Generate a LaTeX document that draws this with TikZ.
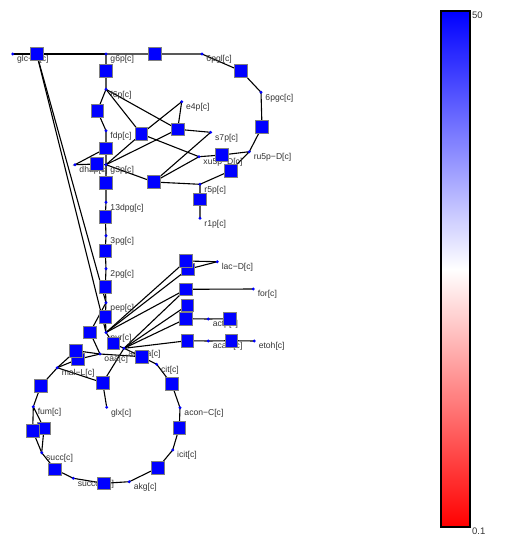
\documentclass[tikz,border=0pt]{standalone}
\usepackage{fontspec}
\setmainfont{Liberation Sans}
\usetikzlibrary{positioning}
\pgfdeclarelayer{edges}
\pgfdeclarelayer{labels}
\pgfsetlayers{edges,labels,main}

\begin{document}
\begin{tikzpicture}[x=1pt, y=-1pt,
	met/.style={circle, fill=blue, inner sep=0pt, minimum size=3.2pt},
	rxn/.style={draw=gray, fill=blue, line width=0.8pt, inner sep=0pt, minimum size=12.5pt},
	lbl/.style={font=\fontsize{8.6}{9}\selectfont, text=black!80, inner sep=0pt},
	link/.style={line width=1.1pt}]
	\useasboundingbox (0,0) rectangle (504,536);
	
	% metabolites
	\node[met] (glc) at (12.7,54) {};
	\node[met] (g6p) at (106,54) {};
	\node[met] (pgl6) at (202,54) {};
	\node[met] (pgc6) at (261,92.3) {};
	\node[met] (f6p) at (106,89.3) {};
	\node[met] (e4p) at (181.7,101.7) {};
	\node[met] (fdp) at (106,130.7) {};
	\node[met] (s7p) at (210.7,132.3) {};
	\node[met] (xu5p) at (199,156.7) {};
	\node[met] (ru5p) at (249.3,151.7) {};
	\node[met] (dhap) at (75,164.7) {};
	\node[met] (g3p) at (106,164.7) {};
	\node[met] (r5p) at (200,184.3) {};
	\node[met] (dpg13) at (106,202.3) {};
	\node[met] (r1p) at (200,218.3) {};
	\node[met] (pg3) at (106,235.7) {};
	\node[met] (pg2) at (106,268.7) {};
	\node[met] (pep) at (106,302.7) {};
	\node[met] (pyr) at (106,332.5) {};
	\node[met] (lacD) at (217.3,261.7) {};
	\node[met] (form) at (253.3,289) {};
	\node[met] (actp) at (208.3,319) {};
	\node[met] (accoa) at (124,348.3) {};
	\node[met] (oaa) at (100,354) {};
	\node[met] (acald) at (208.3,341) {};
	\node[met] (etoh) at (254.3,341) {};
	\node[met] (cit) at (156.7,364.3) {};
	\node[met] (malL) at (57.3,367.7) {};
	\node[met] (fum) at (33.3,406.7) {};
	\node[met] (glx) at (106.7,407.3) {};
	\node[met] (aconC) at (180,407.7) {};
	\node[met] (succ) at (41.7,452.7) {};
	\node[met] (icit) at (172.7,450) {};
	\node[met] (succoa) at (73.3,478.3) {};
	\node[met] (akg) at (129.3,481.7) {};
	
	% labels
	\begin{pgfonlayer}{labels}
	\node[lbl, below right=0pt and 3pt of glc] (glc-l) {glc−D[c]};
	\node[lbl, below right=0pt and 3pt of g6p] (g6p-l) {g6p[c]};
	\node[lbl, below right=0pt and 3pt of pgl6] (pgl6-l) {6pgl[c]};
	\node[lbl, below right=0pt and 3pt of pgc6] (pgc6-l) {6pgc[c]};
	\node[lbl, below right=0pt and 3pt of f6p] (f6p-l) {f6p[c]};
	\node[lbl, below right=0pt and 3pt of e4p] (e4p-l) {e4p[c]};
	\node[lbl, below right=0pt and 3pt of fdp] (fdp-l) {fdp[c]};
	\node[lbl, below right=0pt and 3pt of s7p] (s7p-l) {s7p[c]};
	\node[lbl, below right=0pt and 3pt of xu5p] (xu5p-l) {xu5p−D[c]};
	\node[lbl, below right=0pt and 3pt of ru5p] (ru5p-l) {ru5p−D[c]};
	\node[lbl, below right=0pt and 3pt of dhap] (dhap-l) {dhap[c]};
	\node[lbl, below right=0pt and 3pt of g3p] (g3p-l) {g3p[c]};
	\node[lbl, below right=0pt and 3pt of r5p] (r5p-l) {r5p[c]};
	\node[lbl, below right=0pt and 3pt of dpg13] (dpg13-l) {13dpg[c]};
	\node[lbl, below right=0pt and 3pt of r1p] (r1p-l) {r1p[c]};
	\node[lbl, below right=0pt and 3pt of pg3] (pg3-l) {3pg[c]};
	\node[lbl, below right=0pt and 3pt of pg2] (pg2-l) {2pg[c]};
	\node[lbl, below right=0pt and 3pt of pep] (pep-l) {pep[c]};
	\node[lbl, below right=0pt and 3pt of pyr] (pyr-l) {pyr[c]};
	\node[lbl, below right=0pt and 3pt of lacD] (lacD-l) {lac−D[c]};
	\node[lbl, below right=0pt and 3pt of form] (form-l) {for[c]};
	\node[lbl, below right=0pt and 3pt of actp] (actp-l) {actp[c]};
	\node[lbl, below right=0pt and 3pt of accoa] (accoa-l) {accoa[c]};
	\node[lbl, below right=0pt and 3pt of oaa] (oaa-l) {oaa[c]};
	\node[lbl, below right=0pt and 3pt of acald] (acald-l) {acald[c]};
	\node[lbl, below right=0pt and 3pt of etoh] (etoh-l) {etoh[c]};
	\node[lbl, below right=0pt and 3pt of cit] (cit-l) {cit[c]};
	\node[lbl, below right=0pt and 3pt of malL] (malL-l) {mal−L[c]};
	\node[lbl, below right=0pt and 3pt of fum] (fum-l) {fum[c]};
	\node[lbl, below right=0pt and 3pt of glx] (glx-l) {glx[c]};
	\node[lbl, below right=0pt and 3pt of aconC] (aconC-l) {acon−C[c]};
	\node[lbl, below right=0pt and 3pt of succ] (succ-l) {succ[c]};
	\node[lbl, below right=0pt and 3pt of icit] (icit-l) {icit[c]};
	\node[lbl, below right=0pt and 3pt of succoa] (succoa-l) {succoa[c]};
	\node[lbl, below right=0pt and 3pt of akg] (akg-l) {akg[c]};
	\end{pgfonlayer}
	
	% reactions
	\node[rxn] (GLCpts) at (36.7,54) {};
	\node[rxn] (G6PDH) at (154.7,54) {};
	\node[rxn] (PGI) at (106,71) {};
	\node[rxn] (PGL) at (241,71) {};
	\node[rxn] (GND) at (262,127) {};
	\node[rxn] (PFK) at (97.3,111) {};
	\node[rxn] (TKT2) at (141.3,134) {};
	\node[rxn] (TALA) at (177.7,129.3) {};
	\node[rxn] (TKT1) at (153.7,182) {};
	\node[rxn] (RPE) at (221.7,155) {};
	\node[rxn] (RPI) at (230.7,170.7) {};
	\node[rxn] (PPM) at (200,199.3) {};
	\node[rxn] (FBA) at (106,148.3) {};
	\node[rxn] (TPI) at (96.7,164) {};
	\node[rxn] (GAPD) at (106,182.7) {};
	\node[rxn] (PGK) at (105.3,216.7) {};
	\node[rxn] (PGM) at (105.3,250.7) {};
	\node[rxn] (ENO) at (105.3,286.7) {};
	\node[rxn] (PYK) at (105.3,316.7) {};
	\node[rxn] (PPC) at (90,332.3) {};
	\node[rxn] (PDH) at (113.3,343.3) {};
	\node[rxn] (DLACt) at (187.7,269.3) {};
	\node[rxn] (LDH) at (186,261) {};
	\node[rxn] (PFL) at (186,289.3) {};
	\node[rxn] (ACt) at (187.3,305.3) {};
	\node[rxn] (PTAr) at (186,318.7) {};
	\node[rxn] (ACKr) at (230,318.7) {};
	\node[rxn] (ACALD) at (187.3,340.7) {};
	\node[rxn] (ALCD) at (231.3,340.7) {};
	\node[rxn] (CS) at (141.7,356.7) {};
	\node[rxn] (MDH2) at (77.7,359.3) {};
	\node[rxn] (MDH) at (76,350.7) {};
	\node[rxn] (MALS) at (102.7,382.7) {};
	\node[rxn] (ACONTa) at (171.7,384) {};
	\node[rxn] (ACONTb) at (179.3,427.7) {};
	\node[rxn] (ICDH) at (158,467.7) {};
	\node[rxn] (AKGDH) at (104,483.3) {};
	\node[rxn] (SUCOAS) at (55,469.3) {};
	\node[rxn] (FRD) at (44,428.3) {};
	\node[rxn] (SUCDi) at (32.7,430.7) {};
	\node[rxn] (FUM) at (40.7,386) {};
	
	% connectors
	\begin{pgfonlayer}{edges}
	\draw[link] (glc.center) -- (GLCpts.center) -- (g6p.center);
	\draw[link] (GLCpts.center) -- (pep.center);
	\draw[link] (GLCpts.center) -- (pyr.center);
	\draw[link] (g6p.center) -- (G6PDH.center) -- (pgl6.center) -- (PGL.center) -- (pgc6.center) -- (GND.center) -- (ru5p.center);
	\draw[link] (g6p.center) -- (PGI.center) -- (f6p.center) -- (PFK.center) -- (fdp.center) -- (FBA.center) -- (g3p.center);
	\draw[link] (FBA.center) -- (dhap.center) -- (TPI.center) -- (g3p.center);
	\draw[link] (f6p.center) -- (TKT2.center) -- (e4p.center);
	\draw[link] (g3p.center) -- (TKT2.center) -- (xu5p.center);
	\draw[link] (f6p.center) -- (TALA.center) -- (e4p.center);
	\draw[link] (g3p.center) -- (TALA.center) -- (s7p.center);
	\draw[link] (g3p.center) -- (TKT1.center) -- (s7p.center);
	\draw[link] (xu5p.center) -- (TKT1.center) -- (r5p.center);
	\draw[link] (xu5p.center) -- (RPE.center) -- (ru5p.center) -- (RPI.center) -- (r5p.center) -- (PPM.center) -- (r1p.center);
	\draw[link] (g3p.center) -- (GAPD.center) -- (dpg13.center) -- (PGK.center) -- (pg3.center) -- (PGM.center) -- (pg2.center) -- (ENO.center) -- (pep.center) -- (PYK.center) -- (pyr.center);
	\draw[link] (pep.center) -- (PPC.center) -- (oaa.center);
	\draw[link] (pyr.center) -- (PDH.center) -- (accoa.center);
	\draw[link] (pyr.center) -- (LDH.center) -- (lacD.center);
	\draw[link] (pyr.center) -- (DLACt.center) -- (lacD.center);
	\draw[link] (pyr.center) -- (PFL.center) -- (form.center);
	\draw[link] (accoa.center) -- (PFL.center);
	\draw[link] (accoa.center) -- (ACt.center);
	\draw[link] (accoa.center) -- (PTAr.center) -- (actp.center) -- (ACKr.center);
	\draw[link] (accoa.center) -- (ACALD.center) -- (acald.center) -- (ALCD.center) -- (etoh.center);
	\draw[link] (accoa.center) -- (CS.center) -- (cit.center);
	\draw[link] (oaa.center) -- (CS.center);
	\draw[link] (malL.center) -- (MDH.center) -- (oaa.center);
	\draw[link] (malL.center) -- (MDH2.center) -- (oaa.center);
	\draw[link] (accoa.center) -- (MALS.center) -- (glx.center);
	\draw[link] (MALS.center) -- (malL.center);
	\draw[link] (cit.center) -- (ACONTa.center) -- (aconC.center) -- (ACONTb.center) -- (icit.center) -- (ICDH.center) -- (akg.center) -- (AKGDH.center) -- (succoa.center) -- (SUCOAS.center) -- (succ.center);
	\draw[link] (succ.center) -- (FRD.center) -- (fum.center);
	\draw[link] (succ.center) -- (SUCDi.center) -- (fum.center);
	\draw[link] (fum.center) -- (FUM.center) -- (malL.center);
	\end{pgfonlayer}
	
	% colour bar
	\shade[top color=blue, bottom color=red, middle color=white] (441,11) rectangle (470,527);
	\draw[line width=1.2pt] (441,11) rectangle (470,527);
	\node[lbl, font=\fontsize{9.5}{10}\selectfont, anchor=north west] (bar-max) at (472,11.5) {50};
	\node[lbl, font=\fontsize{9.5}{10}\selectfont, anchor=north west] (bar-min) at (472,527.5) {0.1};
\end{tikzpicture}
\end{document}
